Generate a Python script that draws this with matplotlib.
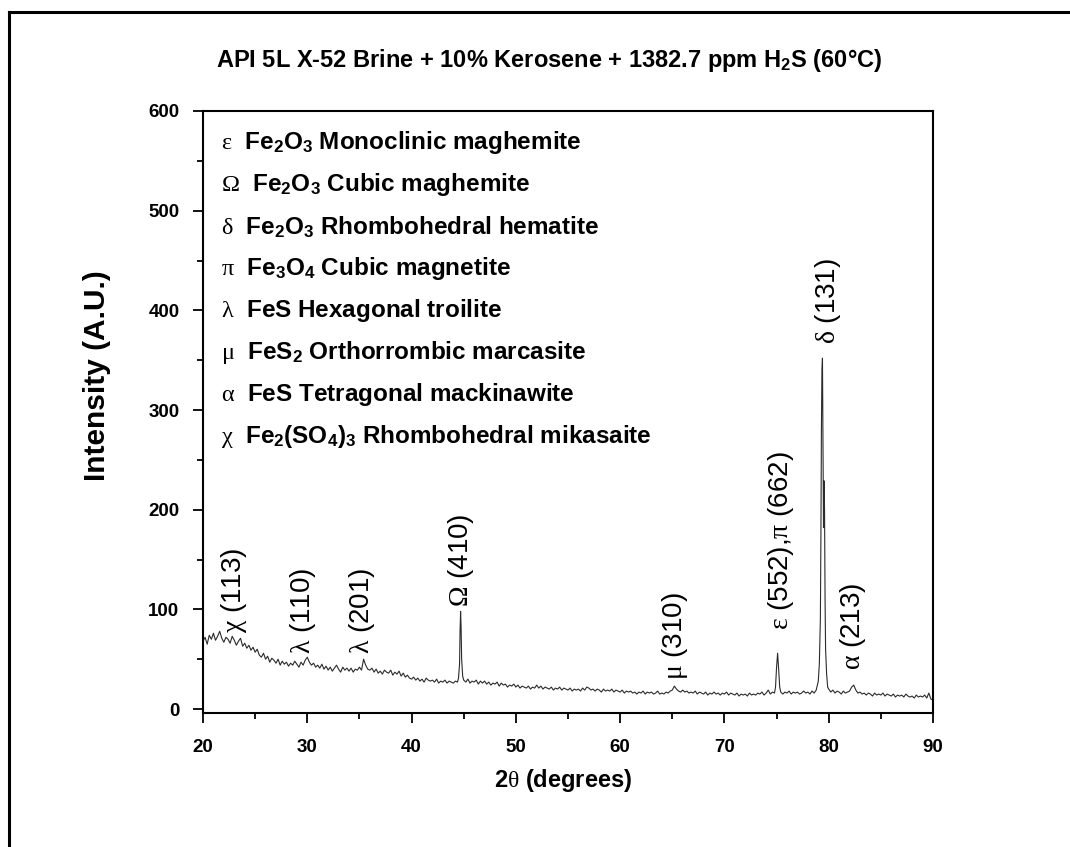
import numpy as np
import matplotlib
matplotlib.use('Agg')
import matplotlib.pyplot as plt
from matplotlib.ticker import MultipleLocator
from matplotlib.lines import Line2D

plt.rcParams['font.family'] = ['Liberation Sans', 'DejaVu Sans']
plt.rcParams['mathtext.fontset'] = 'custom'
plt.rcParams['mathtext.rm'] = 'Liberation Serif'
plt.rcParams['mathtext.it'] = 'Liberation Serif:italic'
plt.rcParams['mathtext.bf'] = 'Liberation Sans:bold'
plt.rcParams['mathtext.sf'] = 'Liberation Sans'

# intensity every 0.2 deg, one row per degree (20.0 .. 89.8), then 90.0
scan_counts = [
    68, 72, 65, 74, 70,   # 20
    76, 69, 73, 78, 71,   # 21
    67, 72, 70, 66, 73,   # 22
    69, 64, 68, 71, 63,   # 23
    66, 61, 64, 59, 62,   # 24
    57, 60, 54, 52, 56,   # 25
    50, 53, 47, 51, 49,   # 26
    46, 50, 44, 48, 45,   # 27
    47, 43, 46, 44, 48,   # 28
    45, 42, 47, 44, 49,   # 29
    52, 47, 44, 46, 42,   # 30
    44, 41, 45, 40, 43,   # 31
    39, 42, 38, 41, 44,   # 32
    40, 37, 42, 39, 41,   # 33
    38, 41, 37, 40, 39,   # 34
    42, 39, 50, 44, 40,   # 35
    39, 41, 37, 40, 36,   # 36
    38, 35, 39, 37, 36,   # 37
    39, 34, 37, 35, 38,   # 38
    33, 36, 32, 34, 31,   # 39
    30, 32, 29, 31, 28,   # 40
    30, 27, 31, 29, 28,   # 41
    29, 27, 30, 26, 28,   # 42
    27, 29, 26, 28, 27,   # 43
    26, 28, 27, 45, 50,   # 44
    29, 27, 30, 26, 28,   # 45
    27, 29, 25, 28, 26,   # 46
    28, 25, 27, 24, 26,   # 47
    25, 27, 23, 26, 24,   # 48
    25, 22, 24, 23, 25,   # 49
    22, 24, 21, 23, 22,   # 50
    21, 23, 20, 22, 21,   # 51
    24, 21, 23, 20, 22,   # 52
    21, 20, 22, 19, 21,   # 53
    20, 22, 19, 21, 20,   # 54
    19, 21, 18, 20, 19,   # 55
    20, 18, 21, 19, 22,   # 56
    21, 19, 20, 18, 20,   # 57
    19, 17, 20, 18, 19,   # 58
    18, 20, 17, 19, 18,   # 59
    17, 19, 16, 18, 17,   # 60
    18, 16, 17, 15, 17,   # 61
    16, 18, 15, 17, 16,   # 62
    17, 15, 16, 18, 15,   # 63
    16, 15, 17, 16, 18,   # 64
    19, 23, 20, 18, 17,   # 65
    19, 17, 18, 16, 17,   # 66
    16, 18, 15, 17, 16,   # 67
    15, 17, 14, 16, 15,   # 68
    17, 15, 16, 14, 16,   # 69
    15, 17, 14, 16, 15,   # 70
    14, 16, 13, 15, 14,   # 71
    15, 13, 16, 14, 15,   # 72
    14, 16, 15, 17, 14,   # 73
    16, 19, 15, 17, 16,   # 74
    42, 40, 17, 15, 17,   # 75
    16, 18, 15, 17, 16,   # 76
    17, 15, 16, 18, 16,   # 77
    17, 15, 18, 16, 19,   # 78
    28, 90, 352, 200, 35, # 79
    20, 17, 19, 16, 18,   # 80
    17, 15, 18, 16, 17,   # 81
    18, 22, 24, 19, 16,   # 82
    17, 15, 16, 14, 16,   # 83
    15, 13, 16, 14, 15,   # 84
    14, 16, 13, 15, 14,   # 85
    13, 15, 12, 14, 13,   # 86
    14, 12, 15, 13, 12,   # 87
    13, 11, 14, 12, 13,   # 88
    12, 14, 11, 16, 10,   # 89
    9,                    # 90
]

# extra points read across the narrow peaks
peak_2theta = [44.5, 44.65, 44.7, 44.75, 44.9,
               74.9, 75.1, 75.3,
               79.1, 79.25, 79.3, 79.35, 79.45, 79.5, 79.55, 79.65, 79.7, 79.9]
peak_counts = [31, 78, 98, 82, 33,
               22, 56, 22,
               45, 170, 280, 340, 260, 182, 229, 110, 60, 22]

phases = [
    r'$\mathrm{\varepsilon}$  Fe$_\mathbf{2}$O$_\mathbf{3}$ Monoclinic maghemite',
    r'$\mathrm{\Omega}$  Fe$_\mathbf{2}$O$_\mathbf{3}$ Cubic maghemite',
    r'$\mathrm{\delta}$  Fe$_\mathbf{2}$O$_\mathbf{3}$ Rhombohedral hematite',
    r'$\mathrm{\pi}$  Fe$_\mathbf{3}$O$_\mathbf{4}$ Cubic magnetite',
    r'$\mathrm{\lambda}$  FeS Hexagonal troilite',
    r'$\mathrm{\mu}$  FeS$_\mathbf{2}$ Orthorrombic marcasite',
    r'$\mathrm{\alpha}$  FeS Tetragonal mackinawite',
    r'$\mathrm{\chi}$  Fe$_\mathbf{2}$(SO$_\mathbf{4}$)$_\mathbf{3}$ Rhombohedral mikasaite',
]

peak_labels = [r'$\mathrm{\chi}$ (113)', r'$\mathrm{\lambda}$ (110)', r'$\mathrm{\lambda}$ (201)',
               r'$\mathrm{\Omega}$ (410)', r'$\mathrm{\mu}$ (310)',
               r'$\mathrm{\varepsilon}$ (552),$\mathrm{\pi}$ (662)',
               r'$\mathrm{\delta}$ (131)', r'$\mathrm{\alpha}$ (213)']
label_2theta = [23.0, 29.6, 35.2, 44.75, 65.3, 75.45, 79.95, 82.3]
label_base = [76, 55, 55, 102, 29, 79, 366, 39]

grid = np.linspace(20, 90, len(scan_counts))
tt = np.concatenate([grid, peak_2theta])
counts = np.concatenate([scan_counts, peak_counts])
order = np.argsort(tt)
tt, counts = tt[order], counts[order]

fig = plt.figure(figsize=(10.7, 8.47), dpi=100)
ax = fig.add_axes([203/1070, 1-713/847, 730/1070, 602/847])

ax.plot(tt, counts, color='#2b2b2b', lw=0.8)

ax.set_xlim(20, 90)
ax.set_ylim(-4, 600)
ax.xaxis.set_major_locator(MultipleLocator(10))
ax.xaxis.set_minor_locator(MultipleLocator(5))
ax.yaxis.set_major_locator(MultipleLocator(100))
ax.yaxis.set_minor_locator(MultipleLocator(50))
ax.tick_params(which='major', direction='out', length=7, width=1.3, labelsize=13.5)
ax.tick_params(which='minor', direction='out', length=4, width=1.3)
ax.tick_params(axis='x', which='major', pad=12)
ax.tick_params(axis='y', which='major', pad=10)
for lab in ax.get_xticklabels() + ax.get_yticklabels():
    lab.set_fontweight('bold')
for sp in ax.spines.values():
    sp.set_linewidth(1.5)

ax.set_ylabel('Intensity (A.U.)', fontsize=21.5, fontweight='bold')
ax.yaxis.set_label_coords(-0.126, 0.56)
ax.set_xlabel(r'2$\mathrm{\theta}$ (degrees)', fontsize=17, fontweight='bold')
ax.xaxis.set_label_coords(0.494, -0.09)

fig.text(549/1070, 1-60/847, r'API 5L X-52 Brine + 10% Kerosene + 1382.7 ppm H$_\mathbf{2}$S (60°C)',
         ha='center', va='center', fontsize=17, fontweight='bold')

for i, txt in enumerate(phases):
    ax.text(0.025, (713 - 143 - i*42)/602, txt, transform=ax.transAxes, ha='left', va='center',
            fontsize=17.5, fontweight='bold')

for txt, x, y in zip(peak_labels, label_2theta, label_base):
    ax.text(x, y, txt, rotation=90, rotation_mode='anchor', ha='left', va='center', fontsize=20)

# frame around the picture (top and left edges only)
fig.add_artist(Line2D([9/1070, 1], [1-12/847, 1-12/847], transform=fig.transFigure, color='k', lw=2.2))
fig.add_artist(Line2D([9/1070, 9/1070], [0, 1-12/847], transform=fig.transFigure, color='k', lw=2.2))

fig.savefig('out.png', dpi=100)
